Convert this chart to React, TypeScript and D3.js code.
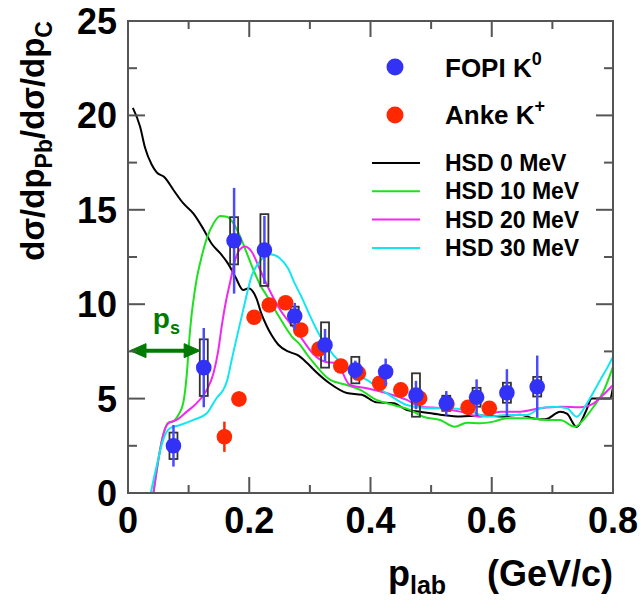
import React from "react";
import * as d3 from "d3";

// ---------- data ----------
const fopiX = [0.075, 0.125, 0.175, 0.225, 0.275, 0.325, 0.375, 0.425, 0.475, 0.525, 0.575, 0.625, 0.675];
const fopiY = [2.5, 6.64, 13.36, 12.87, 9.37, 7.84, 6.51, 6.42, 5.19, 4.75, 5.07, 5.31, 5.63];
const fopiStat = [1.1, 2.1, 2.8, 1.8, 0.7, 0.85, 0.5, 0.7, 0.75, 0.65, 0.95, 1.25, 1.65];
const fopiSys = [0.7, 1.5, 1.25, 1.9, 0.5, 1.2, 0.7, 0, 1.15, 0.4, 0.5, 0.53, 0.52];

const ankeX = [0.159, 0.183, 0.208, 0.233, 0.26, 0.285, 0.315, 0.351, 0.38, 0.415, 0.45, 0.481, 0.526, 0.561, 0.596];
const ankeY = [2.98, 4.98, 9.31, 9.96, 10.08, 8.63, 7.63, 6.73, 6.34, 5.81, 5.46, 5.02, 4.71, 4.54, 4.49];
const ankeErr = [0.8, 0.4, 0.3, 0.3, 0.3, 0.3, 0.3, 0.3, 0.3, 0.3, 0.3, 0.3, 0.3, 0.3, 0.3];

const hsd0X = [0.008, 0.02, 0.028, 0.039, 0.047, 0.061, 0.075, 0.091, 0.108, 0.124, 0.138, 0.152, 0.165, 0.177, 0.19, 0.199, 0.212, 0.22, 0.228, 0.237, 0.248, 0.264, 0.28, 0.295, 0.309, 0.333, 0.361, 0.386, 0.41, 0.438, 0.46, 0.482, 0.515, 0.548, 0.581, 0.614, 0.647, 0.669, 0.688, 0.713, 0.724, 0.74, 0.755, 0.765, 0.785, 0.795, 0.8];
const hsd0Y = [20.4, 19.4, 18.3, 17.4, 17.0, 16.7, 16.05, 15.35, 14.8, 14.0, 13.2, 12.7, 12.15, 11.45, 10.75, 10.85, 10.3, 9.5, 8.9, 8.35, 7.85, 7.5, 7.3, 6.9, 6.45, 5.8, 5.3, 5.2, 4.8, 4.75, 4.4, 4.3, 4.15, 4.05, 4.1, 4.05, 4.15, 3.95, 3.9, 4.3, 4.2, 3.5, 4.3, 5.0, 5.0, 5.0, 5.6];

const hsd10X = [0.042, 0.05, 0.058, 0.066, 0.075, 0.083, 0.091, 0.095, 0.098, 0.1006, 0.104, 0.108, 0.113, 0.1215, 0.131, 0.141, 0.152, 0.163, 0.174, 0.185, 0.196, 0.207, 0.218, 0.229, 0.248, 0.27, 0.284, 0.295, 0.306, 0.333, 0.361, 0.383, 0.41, 0.438, 0.465, 0.487, 0.515, 0.539, 0.559, 0.581, 0.603, 0.625, 0.658, 0.691, 0.713, 0.737, 0.751, 0.768, 0.784, 0.8];
const hsd10Y = [0, 1.75, 3.07, 3.72, 3.8, 4.13, 4.75, 5.63, 6.69, 7.93, 9.16, 10.22, 11.28, 12.52, 13.58, 14.28, 14.67, 14.63, 14.28, 13.58, 12.7, 11.81, 11.02, 10.45, 9.4, 8.3, 7.85, 7.35, 6.9, 6.0, 5.72, 5.46, 4.93, 4.66, 4.4, 4.04, 3.87, 3.51, 3.72, 3.69, 3.78, 3.96, 3.96, 3.87, 3.87, 3.51, 3.87, 4.57, 5.37, 6.69];

const hsd20X = [0.042, 0.05, 0.058, 0.0665, 0.08, 0.097, 0.113, 0.13, 0.141, 0.149, 0.1545, 0.162, 0.168, 0.174, 0.182, 0.193, 0.204, 0.218, 0.231, 0.253, 0.275, 0.284, 0.306, 0.325, 0.344, 0.366, 0.394, 0.427, 0.46, 0.482, 0.515, 0.548, 0.581, 0.614, 0.647, 0.68, 0.713, 0.746, 0.768, 0.784, 0.8];
const hsd20Y = [0, 1.75, 3.07, 3.69, 3.87, 4.31, 4.75, 5.46, 6.34, 7.57, 8.81, 10.22, 11.1, 12.0, 12.78, 13.05, 12.78, 11.81, 10.9, 9.6, 8.7, 8.3, 7.35, 6.95, 6.87, 5.72, 5.55, 5.28, 4.93, 4.57, 4.49, 4.31, 4.04, 4.31, 4.31, 4.49, 4.57, 4.54, 4.75, 5.2, 5.72];

const hsd30X = [0.0375, 0.047, 0.058, 0.069, 0.086, 0.108, 0.13, 0.146, 0.157, 0.163, 0.171, 0.177, 0.19, 0.204, 0.218, 0.235, 0.25, 0.264, 0.275, 0.286, 0.3, 0.317, 0.339, 0.361, 0.394, 0.427, 0.46, 0.493, 0.526, 0.559, 0.592, 0.625, 0.658, 0.68, 0.702, 0.724, 0.74, 0.757, 0.779, 0.79, 0.8];
const hsd30Y = [0, 1.39, 2.81, 3.43, 3.6, 3.87, 4.22, 5.02, 5.46, 5.9, 7.04, 7.9, 9.7, 11.5, 12.3, 12.65, 12.45, 11.9, 11.1, 10.4, 9.4, 8.3, 7.3, 6.6, 5.99, 5.28, 4.66, 4.49, 4.49, 4.4, 4.04, 4.13, 4.13, 4.49, 4.57, 4.49, 4.04, 4.75, 5.99, 6.6, 7.22];

const xTicks = [0, 0.2, 0.4, 0.6, 0.8];
const xTickLabels = ["0", "0.2", "0.4", "0.6", "0.8"];
const xMinor = [0.1, 0.3, 0.5, 0.7];
const yTicks = [0, 5, 10, 15, 20, 25];
const yTickLabels = ["0", "5", "10", "15", "20", "25"];
const yMinor = [2.5, 7.5, 12.5, 17.5, 22.5];

const curveNames = ["HSD 0 MeV", "HSD 10 MeV", "HSD 20 MeV", "HSD 30 MeV"];
const psValue = 0.119;
const psLevel = 7.54;

// ---------- layout ----------
const W = 642, H = 603;
const L = 128, R = 613, T = 21, B = 493;
const FONT = "'Liberation Sans', Arial, Helvetica, sans-serif";
const BLUE = "#3232f6";
const BLUE_ERR = "#4a4aff";
const RED = "#ff2800";
const COLORS = ["#000000", "#1fe01f", "#f028f0", "#14e6f0"];

export default function App() {
  const x = d3.scaleLinear().domain([0, 0.8]).range([L, R]);
  const y = d3.scaleLinear().domain([0, 25]).range([B, T]);
  const line = d3
    .line<[number, number]>()
    .x((d) => x(d[0]))
    .y((d) => y(d[1]))
    .curve(d3.curveMonotoneX);

  const curves = [
    [hsd0X, hsd0Y],
    [hsd10X, hsd10Y],
    [hsd20X, hsd20Y],
    [hsd30X, hsd30Y],
  ].map(([xs, ys]) => xs.map((v, i) => [v, ys[i]] as [number, number]));

  const boxHalf = 4;
  const frame = "#555";
  const markR = 7.8;

  const arrowY = y(psLevel);
  const ax0 = x(0) + 2;
  const ax1 = x(psValue);

  return (
    <svg
      width={W}
      height={H}
      style={{ position: "absolute", left: 0, top: 0, background: "#fff" }}
      fontFamily={FONT}
      fontWeight="bold"
    >
      <defs>
        <clipPath id="plotclip">
          <rect x={L} y={T} width={R - L} height={B - T} />
        </clipPath>
      </defs>

      {/* curves */}
      <g clipPath="url(#plotclip)" fill="none" strokeWidth={2}>
        {curves.map((c, i) => (
          <path key={i} d={line(c) || ""} stroke={COLORS[i]} strokeLinejoin="round" />
        ))}
      </g>

      {/* FOPI systematic boxes */}
      <g fill="none" stroke="#333" strokeWidth={1.8}>
        {fopiX.map((v, i) =>
          fopiSys[i] > 0 ? (
            <rect
              key={i}
              x={x(v) - boxHalf}
              y={y(fopiY[i] + fopiSys[i])}
              width={boxHalf * 2}
              height={y(fopiY[i] - fopiSys[i]) - y(fopiY[i] + fopiSys[i])}
            />
          ) : null
        )}
      </g>

      {/* Anke error bars + markers */}
      <g>
        {ankeX.map((v, i) => (
          <line
            key={i}
            x1={x(v)}
            x2={x(v)}
            y1={y(ankeY[i] + ankeErr[i])}
            y2={y(ankeY[i] - ankeErr[i])}
            stroke={RED}
            strokeWidth={2.5}
          />
        ))}
        {ankeX.map((v, i) => (
          <circle key={i} cx={x(v)} cy={y(ankeY[i])} r={markR} fill={RED} />
        ))}
      </g>

      {/* FOPI error bars + markers */}
      <g>
        {fopiX.map((v, i) => (
          <line
            key={i}
            x1={x(v)}
            x2={x(v)}
            y1={y(fopiY[i] + fopiStat[i])}
            y2={y(fopiY[i] - fopiStat[i])}
            stroke={BLUE_ERR}
            strokeWidth={2.5}
          />
        ))}
        {fopiX.map((v, i) => (
          <circle key={i} cx={x(v)} cy={y(fopiY[i])} r={markR} fill={BLUE} />
        ))}
      </g>

      {/* p_s arrow */}
      <g stroke="#007a00" fill="#007a00">
        <line x1={ax0 + 12} x2={ax1 - 12} y1={arrowY} y2={arrowY} strokeWidth={4} />
        <path d={`M${ax0},${arrowY} L${ax0 + 16},${arrowY - 7} L${ax0 + 16},${arrowY + 7} Z`} strokeWidth={1} />
        <path d={`M${ax1},${arrowY} L${ax1 - 16},${arrowY - 7} L${ax1 - 16},${arrowY + 7} Z`} strokeWidth={1} />
      </g>
      <text x={x(0.041)} y={arrowY - 23} fontSize={28} fill="#007a00">
        p<tspan fontSize={18} dy={6}>s</tspan>
      </text>

      {/* frame */}
      <rect x={L} y={T} width={R - L} height={B - T} fill="none" stroke={frame} strokeWidth={2} />
      <g stroke={frame} strokeWidth={2}>
        {xTicks.map((t) => (
          <g key={"xt" + t}>
            <line x1={x(t)} x2={x(t)} y1={B} y2={B - 16} />
            <line x1={x(t)} x2={x(t)} y1={T} y2={T + 16} />
          </g>
        ))}
        {xMinor.map((t) => (
          <g key={"xm" + t}>
            <line x1={x(t)} x2={x(t)} y1={B} y2={B - 8} />
            <line x1={x(t)} x2={x(t)} y1={T} y2={T + 8} />
          </g>
        ))}
        {yTicks.map((t) => (
          <g key={"yt" + t}>
            <line x1={L} x2={L + 17} y1={y(t)} y2={y(t)} />
            <line x1={R} x2={R - 17} y1={y(t)} y2={y(t)} />
          </g>
        ))}
        {yMinor.map((t) => (
          <g key={"ym" + t}>
            <line x1={L} x2={L + 9} y1={y(t)} y2={y(t)} />
            <line x1={R} x2={R - 9} y1={y(t)} y2={y(t)} />
          </g>
        ))}
      </g>

      {/* tick labels */}
      <g fontSize={36} fill="#000">
        {xTicks.map((t, i) => (
          <text key={"xl" + t} x={x(t)} y={533} textAnchor="middle">
            {xTickLabels[i]}
          </text>
        ))}
        {yTicks.map((t, i) => (
          <text key={"yl" + t} x={117} y={y(t) + 13} textAnchor="end">
            {yTickLabels[i]}
          </text>
        ))}
      </g>

      {/* axis titles */}
      <text x={388} y={586} fontSize={36}>
        p<tspan fontSize={25} dy={8}>lab</tspan>
      </text>
      <text x={613} y={586} fontSize={36} textAnchor="end">
        (GeV/c)
      </text>
      <text transform={`translate(44, ${T}) rotate(-90)`} fontSize={33} textAnchor="end">
        dσ/dp<tspan fontSize={23} dy={8}>Pb</tspan>
        <tspan dy={-8}>/dσ/dp</tspan>
        <tspan fontSize={23} dy={8}>C</tspan>
      </text>

      {/* legend */}
      <circle cx={395} cy={67} r={8.5} fill={BLUE} />
      <text x={445} y={77} fontSize={26}>
        FOPI K<tspan fontSize={18} dy={-12}>0</tspan>
      </text>
      <circle cx={395} cy={115} r={8.5} fill={RED} />
      <text x={445} y={124} fontSize={26}>
        Anke K<tspan fontSize={18} dy={-12}>+</tspan>
      </text>
      {curveNames.map((n, i) => {
        const ly = 163 + i * 28.3;
        return (
          <g key={n}>
            <line x1={372} x2={420} y1={ly} y2={ly} stroke={COLORS[i]} strokeWidth={2} />
            <text x={445} y={ly + 8} fontSize={23}>
              {n}
            </text>
          </g>
        );
      })}
    </svg>
  );
}
